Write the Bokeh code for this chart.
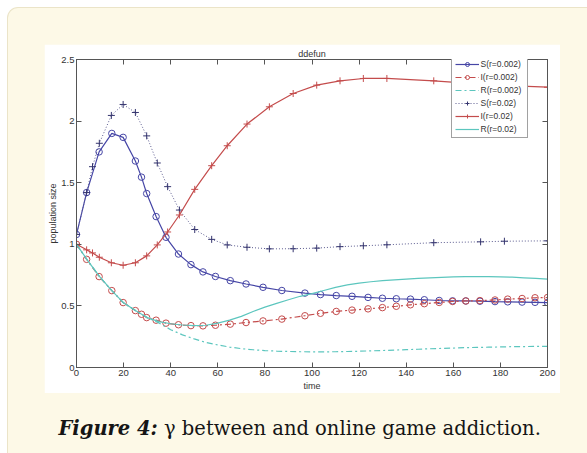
from bokeh.plotting import figure
from bokeh.layouts import column
from bokeh.models import (LinearAxis, FixedTicker, Legend, LegendItem, Range1d,
                          NumeralTickFormatter, Div)
from bokeh.embed import file_html
from bokeh.resources import INLINE

# ---- solver output, r = 0.002 (marker positions) ----
t_r002 = [0, 4.3, 9.6, 15, 19.8, 25, 27.6, 29.8, 33.8, 38, 43.3, 48.6, 53.7, 59,
          65.3, 72, 79.2, 87.2, 97, 103.6, 110.3, 117, 123.8, 129.9, 135.8, 141.8,
          147.7, 154, 159.7, 165.3, 171.3, 177.7, 183.1, 189.2, 194.7, 200]
s_r002 = [1.08, 1.42, 1.75, 1.90, 1.868, 1.676, 1.545, 1.412, 1.225, 1.057, 0.921,
          0.835, 0.776, 0.739, 0.705, 0.678, 0.651, 0.625, 0.604, 0.592, 0.584,
          0.578, 0.569, 0.562, 0.558, 0.555, 0.550, 0.544, 0.541, 0.540, 0.538,
          0.535, 0.533, 0.531, 0.529, 0.527]
i_r002 = [1.0, 0.878, 0.738, 0.624, 0.527, 0.462, 0.432, 0.405, 0.384, 0.360,
          0.347, 0.340, 0.338, 0.343, 0.352, 0.365, 0.378, 0.393, 0.420, 0.440,
          0.455, 0.466, 0.476, 0.486, 0.497, 0.509, 0.518, 0.528, 0.536, 0.540,
          0.543, 0.548, 0.555, 0.560, 0.566, 0.568]

# ---- solver output, r = 0.02 (marker positions) ----
t_r02 = [0, 4.3, 6.8, 9.7, 14.8, 19.8, 25, 29.8, 34.3, 38.7, 43.7, 50.2, 57.4, 64,
         72.4, 81.9, 92, 102, 111.9, 121.8, 131.8, 151.7, 171.6, 181.7, 200]
s_r02 = [1.08, 1.42, 1.63, 1.82, 2.046, 2.135, 2.07, 1.88, 1.66, 1.468, 1.278,
         1.12, 1.04, 0.995, 0.976, 0.963, 0.964, 0.969, 0.981, 0.988, 0.996,
         1.013, 1.02, 1.025, 1.028]
i_r02 = [1.0, 0.955, 0.93, 0.895, 0.85, 0.83, 0.85, 0.906, 0.995, 1.10, 1.238,
         1.446, 1.638, 1.80, 1.976, 2.116, 2.224, 2.292, 2.327, 2.346, 2.346,
         2.327, 2.30, 2.29, 2.275]

# ---- recovered compartments (plain lines) ----
t_rec = [0, 5, 10, 15, 20, 25, 30, 35, 40, 45, 50, 55, 60, 65, 70, 75, 80, 85, 90,
         95, 100, 105, 110, 115, 120, 125, 130, 135, 140, 145, 150, 155, 160, 165,
         170, 175, 180, 185, 190, 195, 200]
rec_r002 = [1.0, 0.862, 0.733, 0.624, 0.525, 0.462, 0.405, 0.362, 0.307, 0.265,
            0.232, 0.203, 0.183, 0.166, 0.153, 0.144, 0.137, 0.133, 0.130, 0.128,
            0.127, 0.127, 0.128, 0.130, 0.132, 0.135, 0.138, 0.141, 0.145, 0.148,
            0.152, 0.155, 0.158, 0.161, 0.163, 0.165, 0.167, 0.169, 0.170, 0.171,
            0.172]
rec_r02 = [1.0, 0.862, 0.733, 0.624, 0.525, 0.462, 0.405, 0.372, 0.355, 0.345,
           0.340, 0.343, 0.360, 0.385, 0.415, 0.455, 0.490, 0.520, 0.550, 0.578,
           0.600, 0.625, 0.650, 0.670, 0.685, 0.696, 0.705, 0.712, 0.718, 0.723,
           0.728, 0.732, 0.735, 0.737, 0.738, 0.738, 0.736, 0.733, 0.728, 0.723,
           0.718]

x_ticks = [0, 20, 40, 60, 80, 100, 120, 140, 160, 180, 200]
y_ticks = [0, 0.5, 1, 1.5, 2, 2.5]

# colours
BLUE = "#4646a6"
RED = "#c44c4c"
CYAN = "#5cc6be"
NAVY = "#34346e"
AXIS = "#555555"
TXT = "#333333"
CREAM = "#fdf9e7"
CREAM_EDGE = "#ebe4c8"

# chart sheet: 516 x 349, frame inset 32 / 13 / 15 / 25
p = figure(width=516, height=349, output_backend="svg", toolbar_location=None,
           x_range=Range1d(0, 200), y_range=Range1d(0, 2.5),
           x_axis_location=None, y_axis_location=None,
           min_border_left=32, min_border_right=13,
           min_border_top=15, min_border_bottom=25,
           title="ddefun")
p.border_fill_color = "white"
p.background_fill_color = "white"
p.outline_line_color = AXIS
p.xgrid.visible = False
p.ygrid.visible = False
p.title.align = "center"
p.title.text_font = "Liberation Sans"
p.title.text_font_size = "9px"
p.title.text_font_style = "normal"
p.title.text_color = TXT
p.title.standoff = 2


def make_axis(ticks, show_labels, label=None, fmt=None):
    ax = LinearAxis(ticker=FixedTicker(ticks=ticks))
    if fmt is not None:
        ax.formatter = fmt
    ax.axis_line_color = AXIS
    ax.axis_line_width = 1
    ax.major_tick_line_color = AXIS
    ax.major_tick_in = 5
    ax.major_tick_out = 0
    ax.minor_tick_line_color = None
    ax.major_label_text_font = "Liberation Sans"
    if show_labels:
        ax.major_label_text_font_size = "9.5px"
        ax.major_label_text_color = TXT
    else:
        ax.major_label_text_font_size = "0px"
        ax.major_label_text_color = None
        ax.major_label_standoff = 0
    if label:
        ax.axis_label = label
        ax.axis_label_text_font = "Liberation Sans"
        ax.axis_label_text_font_size = "9px"
        ax.axis_label_text_font_style = "normal"
        ax.axis_label_text_color = TXT
    return ax


fmt_y = NumeralTickFormatter(format="0.[0]")
left_ax = make_axis(y_ticks, True, "population size", fmt_y)
left_ax.major_label_standoff = 2
left_ax.axis_label_standoff = 0
bottom_ax = make_axis(x_ticks, True, "time")
bottom_ax.major_label_standoff = 2
bottom_ax.axis_label_standoff = 2
p.add_layout(left_ax, "left")
p.add_layout(bottom_ax, "below")
p.add_layout(make_axis(y_ticks, False, fmt=fmt_y), "right")
p.add_layout(make_axis(x_ticks, False), "above")

LW = 1.2
DASHDOT = "6 3 2 3"

# series, drawn in legend order
l1 = p.line(t_r002, s_r002, line_color=BLUE, line_width=LW)
m1 = p.scatter(t_r002, s_r002, marker="circle", size=6.5, line_color=BLUE,
               fill_color=None, line_width=1)
l2 = p.line(t_r002, i_r002, line_color=RED, line_width=LW, line_dash=DASHDOT)
m2 = p.scatter(t_r002, i_r002, marker="circle", size=6.5, line_color=RED,
               fill_color=None, line_width=1)
l3 = p.line(t_rec, rec_r002, line_color=CYAN, line_width=LW, line_dash=DASHDOT)
l4 = p.line(t_r02, s_r02, line_color="#5c5c90", line_width=1, line_dash="1 2")
m4 = p.scatter(t_r02, s_r02, marker="cross", size=7, line_color=NAVY, line_width=1)
l5 = p.line(t_r02, i_r02, line_color=RED, line_width=LW)
m5 = p.scatter(t_r02, i_r02, marker="cross", size=7, line_color=RED, line_width=1)
l6 = p.line(t_rec, rec_r02, line_color=CYAN, line_width=LW)

legend = Legend(items=[
    LegendItem(label="S(r=0.002)", renderers=[l1, m1]),
    LegendItem(label="I(r=0.002)", renderers=[l2, m2]),
    LegendItem(label="R(r=0.002)", renderers=[l3]),
    LegendItem(label="S(r=0.02)", renderers=[l4, m4]),
    LegendItem(label="I(r=0.02)", renderers=[l5, m5]),
    LegendItem(label="R(r=0.02)", renderers=[l6]),
])
legend.location = (375, 309 - 80)
legend.border_line_color = "#444444"
legend.border_line_width = 1
legend.background_fill_color = "white"
legend.background_fill_alpha = 1.0
legend.label_text_font = "Liberation Sans"
legend.label_text_font_size = "8.5px"
legend.label_text_color = TXT
legend.glyph_width = 24
legend.glyph_height = 10
legend.label_height = 10
legend.label_width = 43
legend.spacing = 3
legend.padding = 3
legend.margin = 0
legend.label_standoff = 2
p.add_layout(legend)

# figure caption under the chart
caption = Div(
    text=('<div style="font-family:\'DejaVu Serif\';font-size:19.5px;'
          'line-height:24px;color:#151515;padding:24px 0 0 15px;'
          'white-space:nowrap;">'
          '<b><i>Figure 4:</i></b> γ between and online game addiction.</div>'),
    width=516, height=52, margin=0)

page = column(p, caption, spacing=0, styles={
    "margin": "7px 0 0 7px",
    "width": "580px",
    "height": "446px",
    "box-sizing": "border-box",
    "background-color": CREAM,
    "border-top": f"1.5px solid {CREAM_EDGE}",
    "border-left": f"1.5px solid {CREAM_EDGE}",
    "border-top-left-radius": "11px",
    "padding": "35.5px 0 0 35.5px",
})

open("out.html", "w").write(file_html(page, INLINE))
